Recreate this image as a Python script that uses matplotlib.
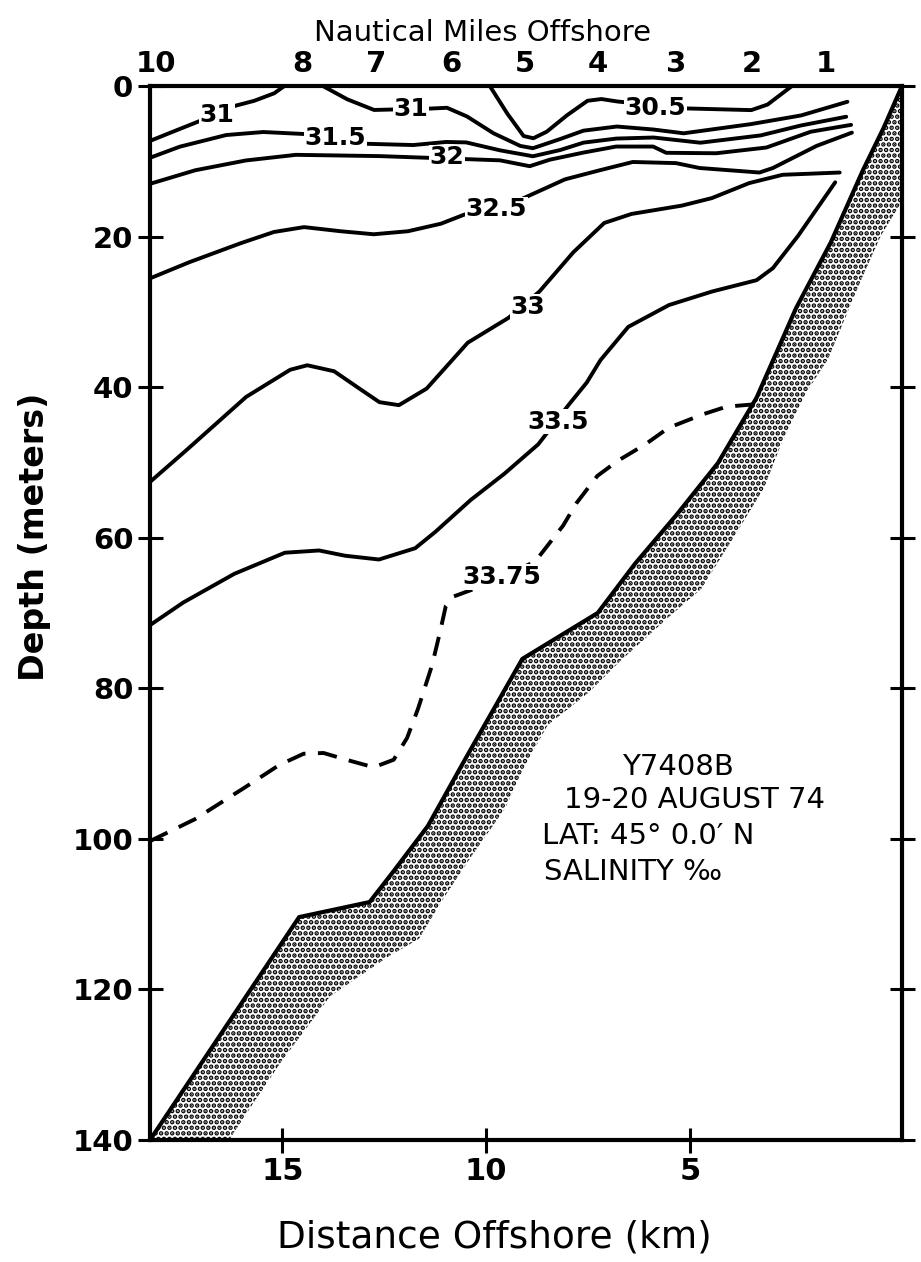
import matplotlib.pyplot as plt

plt.rcParams['font.family'] = 'DejaVu Sans'
plt.rcParams['hatch.linewidth'] = 2.3

# ---- salinity isolines: distance offshore (km) / depth (m) ----
s305_km = [9.91, 9.48, 9.08, 8.84, 8.51, 8.01, 7.51, 7.17, 6.77, 5.06, 3.49, 3.09, 2.49]
s305_d = [0.0, 3.67, 6.65, 6.95, 6.07, 3.88, 1.97, 1.74, 2.07, 2.99, 3.21, 2.47, 0.0]

s31a_km = [18.25, 17.68, 16.93, 16.19, 15.69, 15.20, 14.95]
s31a_d = [7.3, 6.06, 4.44, 2.68, 1.97, 0.97, 0.0]

s31b_km = [14.01, 13.41, 12.75, 11.35, 10.96, 10.47, 9.82, 9.16, 8.85, 8.18, 7.61,
           6.79, 5.89, 5.15, 3.50, 2.27, 1.13]
s31b_d = [0.0, 1.77, 3.19, 3.0, 2.9, 4.05, 6.28, 7.97, 8.27, 7.05, 5.94,
          5.39, 5.79, 6.29, 5.07, 3.92, 2.1]

s315_km = [18.26, 17.52, 16.38, 15.47, 14.41, 13.09, 11.79, 10.98, 10.49, 9.66, 8.85,
           8.18, 7.61, 6.80, 5.89, 4.74, 3.26, 2.27, 1.16]
s315_d = [9.56, 8.07, 6.52, 6.12, 6.4, 7.66, 7.85, 7.44, 7.5, 8.55, 9.34,
          8.51, 7.53, 6.99, 6.85, 7.54, 6.57, 5.25, 4.09]

s32_km = [18.25, 17.14, 15.90, 14.67, 12.61, 9.66, 8.93, 8.44, 7.62, 6.81, 5.90,
          5.58, 4.35, 3.12, 2.03, 1.04]
s32_d = [13.0, 11.2, 9.9, 9.15, 9.32, 9.88, 10.66, 9.8, 8.86, 8.05, 8.05,
         8.88, 8.94, 8.18, 6.08, 5.17]

s325_km = [18.27, 17.28, 16.03, 15.21, 14.47, 13.57, 12.76, 11.92, 11.11, 10.54, 9.12,
           8.63, 8.06, 7.21, 6.40, 5.34, 4.76, 3.29, 2.96, 1.89, 1.02]
s325_d = [25.6, 23.4, 20.9, 19.4, 18.75, 19.3, 19.7, 19.3, 18.3, 17.1, 15.0,
          13.8, 12.4, 11.2, 10.1, 10.25, 10.9, 11.5, 10.9, 7.97, 6.2]

s33_km = [18.23, 17.32, 15.89, 14.81, 14.39, 13.73, 13.11, 12.62, 12.14, 11.46, 10.88,
          10.45, 9.45, 8.69, 7.86, 7.10, 6.43, 5.20, 4.46, 3.54, 2.72, 1.32]
s33_d = [52.5, 48.2, 41.3, 37.7, 37.1, 37.9, 40.2, 42.0, 42.4, 40.2, 36.7,
         34.1, 30.8, 27.3, 22.1, 18.2, 17.0, 15.9, 14.9, 12.9, 11.8, 11.5]

s335_km = [18.30, 17.43, 16.18, 14.94, 14.10, 13.46, 12.63, 11.74, 11.24, 10.38, 9.55,
           8.72, 7.98, 7.53, 7.19, 6.51, 5.51, 4.45, 3.36, 2.96, 2.34, 1.43]
s335_d = [71.8, 68.6, 64.8, 62.0, 61.7, 62.4, 62.9, 61.4, 59.2, 55.0, 51.5,
          47.6, 42.4, 39.4, 36.4, 32.0, 29.1, 27.3, 25.8, 24.2, 19.9, 12.8]

s3375_km = [18.25, 17.15, 15.90, 15.08, 14.48, 13.99, 13.43, 12.76, 12.27, 11.94, 11.67,
            11.33, 11.13, 10.99, 10.79, 10.19, 8.80, 8.11, 7.78, 7.27, 6.77, 6.09,
            5.52, 4.67, 4.10, 3.44]
s3375_d = [100.3, 97.4, 93.1, 90.2, 88.7, 88.6, 89.5, 90.5, 89.5, 86.6, 82.7,
           77.0, 72.5, 69.1, 67.8, 66.6, 63.2, 58.4, 55.4, 51.8, 49.8, 47.6,
           45.4, 43.6, 42.6, 42.3]

# contour labels: text, km, depth
lab_txt = ['30.5', '31', '31', '31.5', '32', '32.5', '33', '33.5', '33.75']
lab_km = [5.85, 16.61, 11.84, 13.70, 10.96, 9.75, 8.97, 8.24, 9.62]
lab_d = [2.9, 3.8, 3.1, 6.9, 9.5, 16.4, 29.3, 44.6, 65.2]

# sea floor (stippled band): upper edge from offshore to coast, lower edge back out
floor_top_km = [18.25, 14.59, 12.86, 12.27, 11.43, 10.48, 9.11, 7.26, 6.35, 5.33,
                4.31, 3.36, 2.39, 1.54, 0.75, 0.24, -0.21]
floor_top_d = [140, 110.4, 108.4, 104.3, 98.3, 89.1, 76.1, 70.0, 63.5, 57.0,
               50.1, 41.4, 29.5, 20.8, 11.2, 5.55, 0.0]
floor_bot_km = [-0.21, 0.31, 0.83, 1.61, 2.13, 2.73, 3.18, 3.87, 4.72, 5.55, 6.73,
                7.49, 8.49, 9.08, 9.53, 10.37, 11.06, 11.65, 12.33, 13.15, 13.83,
                14.42, 15.03, 15.69, 16.31]
floor_bot_d = [15.3, 19.9, 26.2, 36.3, 40.6, 47.2, 53.4, 59.5, 66.8, 70.7, 76.5,
               80.6, 84.9, 90.6, 95.9, 102.4, 108.0, 113.3, 115.4, 118.4, 120.9,
               125.2, 129.6, 134.9, 140]

depth_ticks = [0, 20, 40, 60, 80, 100, 120, 140]
km_ticks = [15, 10, 5]
nm_labels = ['10', '8', '7', '6', '5', '4', '3', '2', '1']
nm_pos_km = [18.10, 14.52, 12.70, 10.86, 9.04, 7.26, 5.34, 3.48, 1.66]

info_lines = ['Y7408B', '19-20 AUGUST 74', 'LAT: 45° 0.0′ N', 'SALINITY ‰']

# ---- plot ----
fig = plt.figure(figsize=(9.21, 12.62), dpi=100)
ax = fig.add_axes([0.1629, 0.0967, 0.8165, 0.8352])

lw = 2.8
for xs, ys in [(s305_km, s305_d), (s31a_km, s31a_d), (s31b_km, s31b_d),
               (s315_km, s315_d), (s32_km, s32_d), (s325_km, s325_d),
               (s33_km, s33_d), (s335_km, s335_d)]:
    ax.plot(xs, ys, color='black', lw=lw, solid_capstyle='round',
            solid_joinstyle='round')
ax.plot(s3375_km, s3375_d, color='black', lw=2.8, linestyle=(0, (5.0, 3.2)))

# stippled bottom
poly_x = floor_top_km + floor_bot_km
poly_y = floor_top_d + floor_bot_d
ax.fill(poly_x, poly_y, facecolor='white', edgecolor='black', hatch='...', linewidth=0)
ax.plot(floor_top_km, floor_top_d, color='black', lw=3.0)

for t, x, y in zip(lab_txt, lab_km, lab_d):
    ax.text(x, y, t, ha='center', va='center', fontsize=18, fontweight='bold',
            bbox=dict(facecolor='white', edgecolor='none', pad=0.5))

# station info block
ax.text(5.28, 90.5, info_lines[0], ha='center', va='center', fontsize=21)
ax.text(8.10, 94.8, info_lines[1], ha='left', va='center', fontsize=21)
ax.text(8.64, 99.6, info_lines[2], ha='left', va='center', fontsize=21)
ax.text(8.59, 104.4, info_lines[3], ha='left', va='center', fontsize=21)

ax.set_xlim(18.25, -0.21)
ax.set_ylim(140, 0)
ax.set_yticks(depth_ticks)
ax.set_xticks(km_ticks)
ax.tick_params(axis='both', direction='inout', length=18, width=2.2,
               labelsize=21, pad=3)
ax.tick_params(axis='x', labelsize=22)
ax.tick_params(axis='y', right=True, labelright=False)
for lbl in ax.get_xticklabels() + ax.get_yticklabels():
    lbl.set_fontweight('bold')
for sp in ax.spines.values():
    sp.set_linewidth(3.0)

top = ax.secondary_xaxis('top')
top.set_xticks(nm_pos_km)
top.set_xticklabels(nm_labels, fontsize=21, fontweight='bold')
top.tick_params(length=0, pad=6)
top.spines['top'].set_visible(False)

fig.text(0.524, 1 - 33 / 1262, 'Nautical Miles Offshore', ha='center', va='center',
         fontsize=21)
fig.text(0.537, 0.0198, 'Distance Offshore (km)', ha='center', va='center', fontsize=27)
fig.text(0.037, 0.575, 'Depth (meters)', rotation=90, ha='center', va='center',
         fontsize=24, fontweight='bold')

fig.savefig('out.png', dpi=100)
